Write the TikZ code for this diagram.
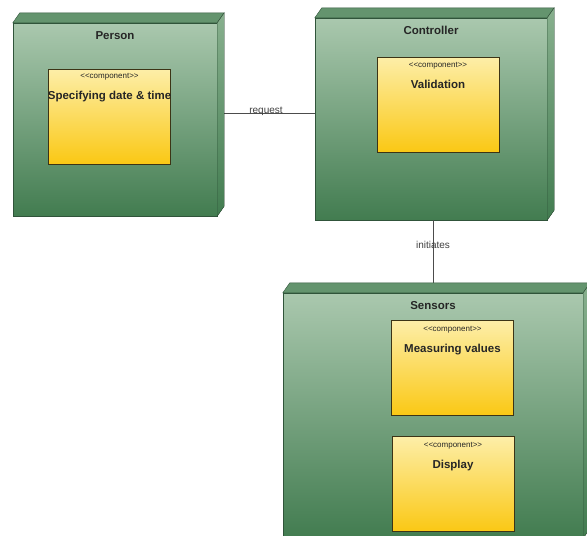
\documentclass[tikz,border=0pt]{standalone}
\usepackage{fontspec}
\setmainfont{Liberation Sans}
\usetikzlibrary{positioning}

\definecolor{nodetop}{RGB}{170,200,174}
\definecolor{nodebot}{RGB}{66,124,80}
\definecolor{nodeface}{RGB}{100,148,110}
\definecolor{nodeside}{RGB}{136,176,142}
\definecolor{nodeedge}{RGB}{48,84,58}
\definecolor{comptop}{RGB}{253,238,168}
\definecolor{compbot}{RGB}{250,200,20}
\definecolor{compedge}{RGB}{60,52,22}

\tikzset{
  umlnode/.style={draw=nodeedge, top color=nodetop, bottom color=nodebot, inner sep=0pt},
  compbox/.style={draw=compedge, line width=0.8pt, top color=comptop, bottom color=compbot,
    minimum width=122pt, minimum height=95pt, inner sep=0pt},
  title/.style={font=\fontsize{11.5}{13}\selectfont\bfseries, text=black!85},
  comptext/.style={align=center, inner sep=0pt, text=black!85,
    font=\fontsize{11.5}{21}\selectfont\bfseries},
  conn/.style={draw=black!70, line width=0.9pt},
  connlabel/.style={font=\fontsize{10}{12}\selectfont, text=black!75}
}
\newcommand{\stereo}{{\fontsize{8}{9}\selectfont\mdseries <{}<component>{}>}}

\begin{document}
\begin{tikzpicture}[x=1pt,y=-1pt]
\useasboundingbox (0,0) rectangle (587,536);

% deployment nodes (front faces)
\node[umlnode, minimum width=204pt, minimum height=193pt] (person) at (115,119.5) {};
\node[umlnode, minimum width=232pt, minimum height=202pt] (controller) at (431,119) {};
\node[umlnode, minimum width=300pt, minimum height=245pt] (sensors) at (433,415.5) {};

% connectors
\draw[conn] ([yshift=6pt]person.east) coordinate (reqa) -- (reqa -| controller.west)
  node[midway, above, connlabel, inner sep=0pt, yshift=-3pt] (request) {request};
\coordinate (sensorsback) at ([shift={(9,-10)}]sensors.north);
\coordinate (inita) at ([xshift=2pt]controller.south);
\draw[conn] (inita) -- (inita |- sensorsback)
  node[pos=0.4, connlabel] (initiates) {initiates};

% top and side faces
\foreach \n in {person,controller,sensors}{
  \filldraw[draw=nodeedge, fill=nodeface] (\n.north west) -- ++(7,-10)
    -- ([shift={(7,-10)}]\n.north east) -- (\n.north east) -- cycle;
  \filldraw[draw=nodeedge, top color=nodeside, bottom color=nodebot] (\n.north east) -- ++(7,-10)
    -- ([shift={(7,-10)}]\n.south east) -- (\n.south east) -- cycle;
}

% titles
\node[title, below=5pt of person.north] (persontitle) {Person};
\node[title, below=5pt of controller.north] (controllertitle) {Controller};
\node[title, below=5pt of sensors.north] (sensorstitle) {Sensors};

% components
\node[compbox] (spec) at (109.5,116.5) {};
\node[compbox] (valid) at (438,104.5) {};
\node[compbox] (meas) at (452.5,368) {};
\node[compbox] (disp) at (453,484) {};

\node[comptext, below=5pt of spec.north] (spectext) {\stereo\\Specifying date \& time};
\node[comptext, below=6pt of valid.north] (validtext) {\stereo\\Validation};
\node[comptext, below=6pt of meas.north] (meastext) {\stereo\\Measuring values};
\node[comptext, below=6pt of disp.north] (disptext) {\stereo\\Display};

\end{tikzpicture}
\end{document}
